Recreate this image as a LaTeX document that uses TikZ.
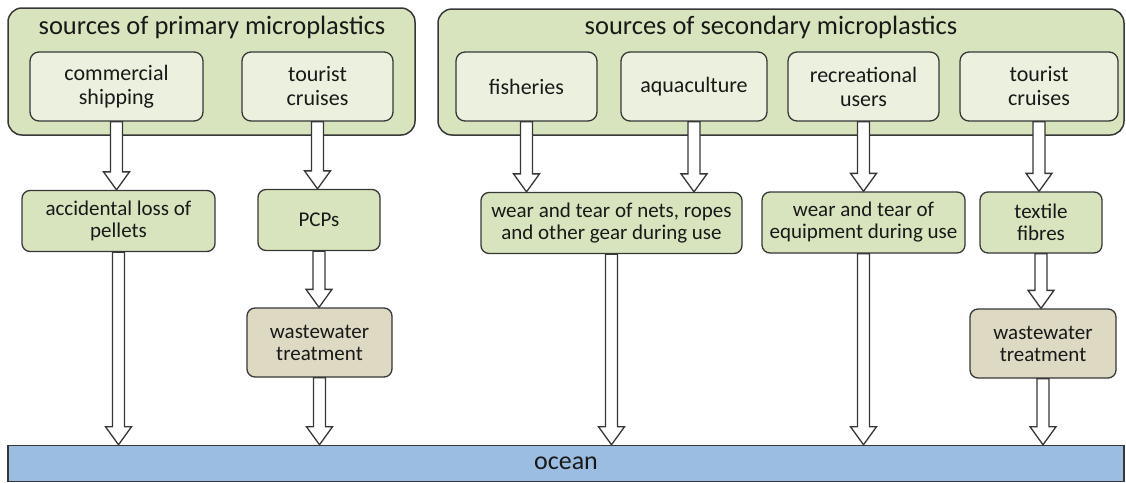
\documentclass[tikz,border=0pt]{standalone}
\usepackage{fontspec}
\setmainfont{Carlito}
\usetikzlibrary{calc}

\definecolor{outergreen}{RGB}{215,228,189}
\definecolor{innergreen}{RGB}{235,241,222}
\definecolor{treatgrey}{RGB}{221,217,195}
\definecolor{oceanblue}{RGB}{155,189,226}
\definecolor{edgegrey}{RGB}{55,55,55}

% hollow block arrow from one node down to another
\newcommand{\hollowarrow}[2]{%
  \draw[flow] let \p1=(#1.south), \p2=(#2.north) in
    (\x1-6pt,\y1) -- (\x1-6pt,\y2+18pt) -- (\x1-13pt,\y2+18pt) -- (\x1,\y2)
    -- (\x1+13pt,\y2+18pt) -- (\x1+6pt,\y2+18pt) -- (\x1+6pt,\y1) -- cycle;}

\begin{document}
\begin{tikzpicture}[x=1pt, y=1pt,
    outerbox/.style={draw=edgegrey, line width=1.5pt, fill=outergreen, rounded corners=14pt, inner sep=0pt},
    titletext/.style={font=\fontsize{26.5}{28}\selectfont, text=black!90},
    srcbox/.style={draw=edgegrey, line width=1.3pt, fill=innergreen, rounded corners=9pt, align=center,
        inner sep=0pt, minimum height=69pt, text=black!90, font=\fontsize{22}{24}\selectfont},
    pathbox/.style={draw=edgegrey, line width=1.3pt, fill=outergreen, rounded corners=8pt, align=center,
        inner sep=0pt, minimum height=61pt, text=black!90, font=\fontsize{21}{22}\selectfont},
    treatbox/.style={pathbox, fill=treatgrey, minimum height=69pt},
    oceanbox/.style={draw=edgegrey, line width=1.5pt, fill=oceanblue, inner sep=0pt, text=black!90,
        font=\fontsize{26}{28}\selectfont},
    flow/.style={draw=edgegrey, fill=white, line width=1.3pt, line join=miter}]
    \useasboundingbox (0,0) rectangle (1126,-482);

    % Box for primary sources
    \node[outerbox, minimum width=407pt, minimum height=127pt] (prim) at (211.5,-71.5) {};
    \node[titletext, anchor=base] (primtitle) at (212,-34) {sources of primary microplastics};
    \node[srcbox, minimum width=173pt] (ship) at (116.5,-86.5) {commercial\\shipping};
    \node[srcbox, minimum width=151pt] (pcruise) at (317.5,-86.5) {tourist\\cruises};

    % Box for secondary sources
    \node[outerbox, minimum width=686pt, minimum height=126pt] (sec) at (781,-72) {};
    \node[titletext, anchor=base] (sectitle) at (771,-34) {sources of secondary microplastics};
    \node[srcbox, minimum width=141pt] (fish) at (526.5,-86.5) {fisheries};
    \node[srcbox, minimum width=146pt] (aqua) at (694,-86.5) {aquaculture};
    \node[srcbox, minimum width=151pt] (recr) at (863.5,-86.5) {recreational\\users};
    \node[srcbox, minimum width=158pt] (scruise) at (1039,-86.5) {tourist\\cruises};

    % Pathways
    \node[pathbox, minimum width=193pt] (loss) at (118.5,-221) {accidental loss of\\pellets};
    \node[pathbox, minimum width=122pt] (pcps) at (319,-220) {PCPs};
    \node[pathbox, minimum width=261pt] (nets) at (611.5,-223) {wear and tear of nets, ropes\\and other gear during use};
    \node[pathbox, minimum width=203pt] (equip) at (863.5,-222.5) {wear and tear of\\equipment during use};
    \node[pathbox, minimum width=122pt] (fibres) at (1041,-222.5) {textile\\fibres};

    % Treatment
    \node[treatbox, minimum width=145pt] (treatA) at (319.5,-342.5) {wastewater\\treatment};
    \node[treatbox, minimum width=146pt] (treatB) at (1043,-343.5) {wastewater\\treatment};

    % Ocean
    \node[oceanbox, minimum width=1116pt, minimum height=36pt] (ocean) at (566,-463.5) {ocean};

    % Arrows
    \hollowarrow{ship}{loss}
    \hollowarrow{pcruise}{pcps}
    \hollowarrow{fish}{nets}
    \hollowarrow{aqua}{nets}
    \hollowarrow{recr}{equip}
    \hollowarrow{scruise}{fibres}
    \hollowarrow{loss}{ocean}
    \hollowarrow{pcps}{treatA}
    \hollowarrow{treatA}{ocean}
    \hollowarrow{nets}{ocean}
    \hollowarrow{equip}{ocean}
    \hollowarrow{fibres}{treatB}
    \hollowarrow{treatB}{ocean}
\end{tikzpicture}
\end{document}
